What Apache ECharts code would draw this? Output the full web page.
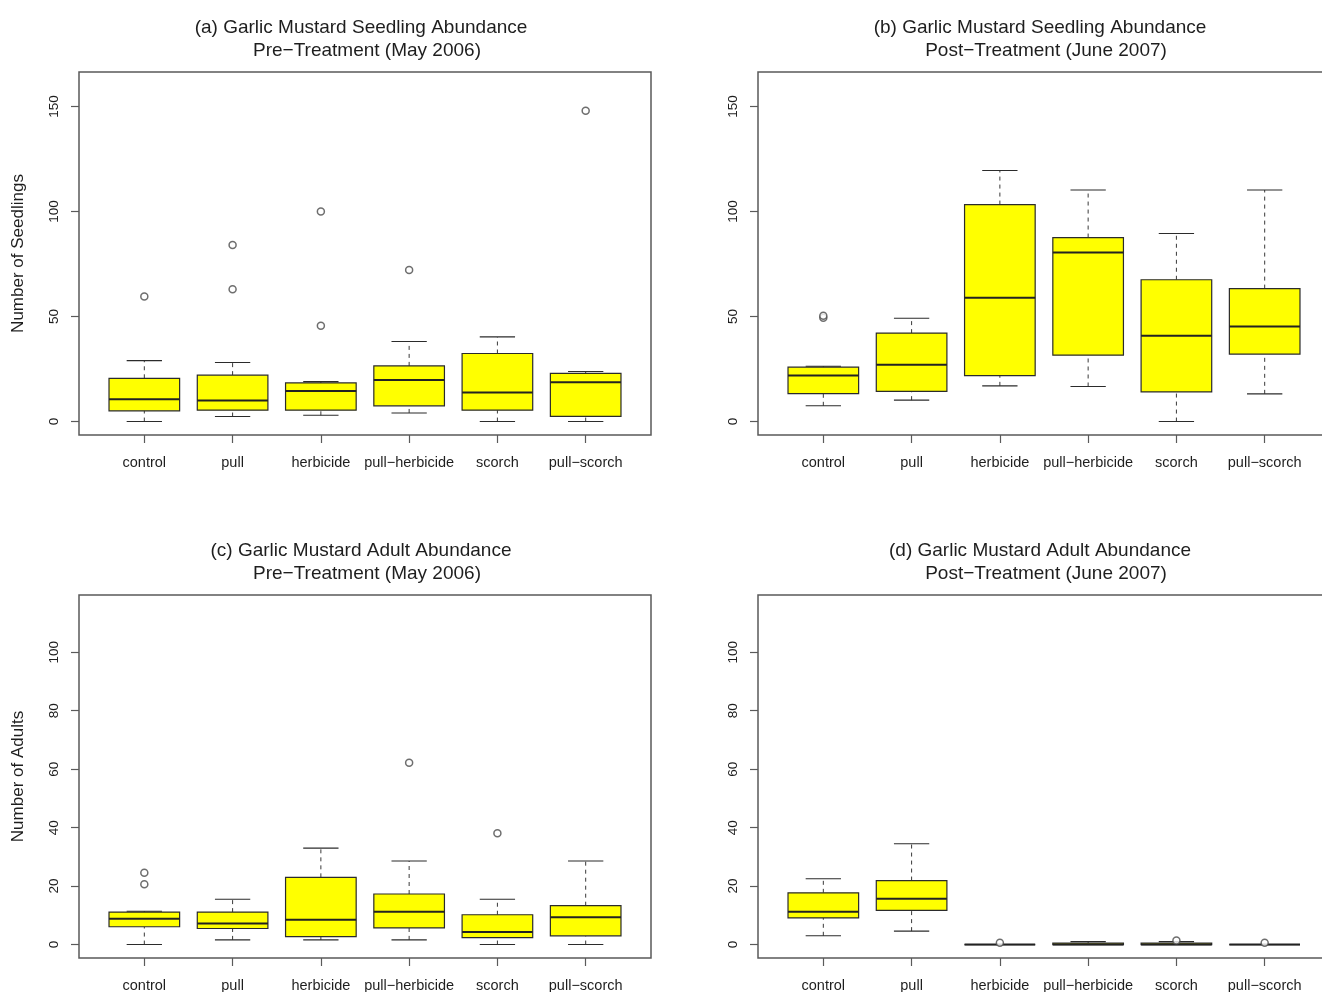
<!DOCTYPE html>
<html>
<head>
<meta charset="utf-8">
<script src="https://cdn.jsdelivr.net/npm/echarts@6/dist/echarts.min.js"></script>
<style>
html,body{margin:0;padding:0;background:#fff;}
#chart{width:1322px;height:992px;}
</style>
</head>
<body>
<div id="chart"></div>
<script>
// ---- data ----
const categories = ['control', 'pull', 'herbicide', 'pull−herbicide', 'scorch', 'pull−scorch'];

// each row: [lower whisker, Q1, median, Q3, upper whisker]
const seedlingPre = [
  [0, 5.1, 10.6, 20.6, 29.0],
  [2.4, 5.4, 10.0, 22.1, 28.1],
  [3.0, 5.4, 14.6, 18.4, 19.0],
  [4.1, 7.5, 19.8, 26.5, 38.1],
  [0, 5.4, 13.8, 32.4, 40.3],
  [0, 2.5, 18.7, 22.9, 23.8]
];
const seedlingPreOutliers = [[1, 59.5], [2, 63.0], [2, 84.0], [3, 45.6], [3, 100.0], [4, 72.1], [6, 147.9]];

const seedlingPost = [
  [7.5, 13.3, 21.9, 25.9, 26.3],
  [10.2, 14.4, 27.1, 42.1, 49.2],
  [17.0, 21.9, 58.9, 103.3, 119.5],
  [16.7, 31.6, 80.5, 87.6, 110.2],
  [0, 14.1, 40.8, 67.5, 89.5],
  [13.2, 32.1, 45.2, 63.3, 110.2]
];
const seedlingPostOutliers = [[1, 49.4], [1, 50.4]];

const adultPre = [
  [0, 6.1, 8.8, 11.1, 11.4],
  [1.6, 5.5, 7.2, 11.1, 15.5],
  [1.6, 2.7, 8.5, 23.0, 33.0],
  [1.6, 5.7, 11.2, 17.3, 28.6],
  [0, 2.4, 4.3, 10.2, 15.5],
  [0, 3.0, 9.3, 13.3, 28.6]
];
const adultPreOutliers = [[1, 20.6], [1, 24.6], [4, 62.2], [5, 38.1]];

const adultPost = [
  [3.0, 9.1, 11.2, 17.7, 22.5],
  [4.6, 11.7, 15.7, 21.9, 34.5],
  [0, 0, 0, 0, 0],
  [0, 0, 0, 0.5, 1.0],
  [0, 0, 0, 0.5, 1.0],
  [0, 0, 0, 0, 0]
];
const adultPostOutliers = [[3, 0.6], [5, 1.4], [6, 0.6]];

const seedlingTicks = [0, 50, 100, 150];
const adultTicks = [0, 20, 40, 60, 80, 100];

const titleLine1 = [
  '(a) Garlic Mustard Seedling Abundance',
  '(b) Garlic Mustard Seedling Abundance',
  '(c) Garlic Mustard Adult Abundance',
  '(d) Garlic Mustard Adult Abundance'
];
const titleLine2 = [
  'Pre−Treatment (May 2006)',
  'Post−Treatment (June 2007)',
  'Pre−Treatment (May 2006)',
  'Post−Treatment (June 2007)'
];
const yNames = ['Number of Seedlings', '', 'Number of Adults', ''];

// ---- layout ----
const panels = [
  {left: 79, top: 72, box: seedlingPre, out: seedlingPreOutliers, ylim: [0, 160], ticks: seedlingTicks},
  {left: 758, top: 72, box: seedlingPost, out: seedlingPostOutliers, ylim: [0, 160], ticks: seedlingTicks},
  {left: 79, top: 595, box: adultPre, out: adultPreOutliers, ylim: [0, 115], ticks: adultTicks},
  {left: 758, top: 595, box: adultPost, out: adultPostOutliers, ylim: [0, 115], ticks: adultTicks}
];
const W = 572, H = 363;
const frameColor = '#5a5a5a';
const textColor = '#1e1e1e';
const ext = 0.04; // R axis extension
const FONT = 'Liberation Sans, Arial, sans-serif';

function renderBox(params, api) {
  const x = api.value(0);
  const lo = api.coord([x, api.value(1)]);
  const q1 = api.coord([x, api.value(2)]);
  const md = api.coord([x, api.value(3)]);
  const q3 = api.coord([x, api.value(4)]);
  const hi = api.coord([x, api.value(5)]);
  const bw = api.size([0.8, 0])[0];
  const sw = api.size([0.4, 0])[0];
  const cx = lo[0];
  const stroke = '#2b2b2b';
  const dash = {stroke: '#3a3a3a', lineWidth: 1, lineDash: [4, 4]};
  const solid = {stroke: '#2b2b2b', lineWidth: 1.1};
  return {
    type: 'group',
    children: [
      {type: 'line', shape: {x1: cx, y1: q3[1], x2: cx, y2: hi[1]}, style: dash},
      {type: 'line', shape: {x1: cx, y1: lo[1], x2: cx, y2: q1[1]}, style: dash},
      {type: 'line', shape: {x1: cx - sw / 2, y1: hi[1], x2: cx + sw / 2, y2: hi[1]}, style: solid},
      {type: 'line', shape: {x1: cx - sw / 2, y1: lo[1], x2: cx + sw / 2, y2: lo[1]}, style: solid},
      {type: 'rect', shape: {x: cx - bw / 2, y: q3[1], width: bw, height: q1[1] - q3[1]},
        style: {fill: '#ffff00', stroke: stroke, lineWidth: 1.2}},
      {type: 'line', shape: {x1: cx - bw / 2, y1: md[1], x2: cx + bw / 2, y2: md[1]},
        style: {stroke: '#222', lineWidth: 2}}
    ]
  };
}

const option = {
  backgroundColor: '#fff',
  animation: false,
  title: [],
  grid: [],
  xAxis: [],
  yAxis: [],
  series: []
};

const catIdx = categories.map((c, i) => i + 1);

panels.forEach((p, k) => {
  const ts = {fontFamily: FONT, fontSize: 19, fontWeight: 'normal', color: textColor, lineHeight: 23};
  option.title.push({
    text: titleLine1[k], left: p.left + W / 2 - 4, top: p.top - 56,
    textAlign: 'center', padding: 0, textStyle: ts
  });
  option.title.push({
    text: titleLine2[k], left: p.left + W / 2 + 2, top: p.top - 33,
    textAlign: 'center', padding: 0, textStyle: ts
  });
  option.grid.push({
    left: p.left, top: p.top, width: W, height: H,
    containLabel: false, outerBoundsMode: 'none',
    show: true, borderColor: frameColor, borderWidth: 1.5, backgroundColor: 'transparent'
  });
  const n = categories.length;
  option.xAxis.push({
    type: 'value', gridIndex: k,
    min: 0.5 - ext * n, max: n + 0.5 + ext * n,
    axisLine: {show: false, onZero: false},
    splitLine: {show: false},
    axisTick: {show: true, inside: false, length: 8, customValues: catIdx, lineStyle: {color: frameColor, width: 1.2}},
    axisLabel: {
      show: true, margin: 20, customValues: catIdx,
      fontFamily: FONT, fontSize: 14.5, color: textColor,
      formatter: v => categories[Math.round(v) - 1] || ''
    }
  });
  const yr = p.ylim[1] - p.ylim[0];
  option.yAxis.push({
    type: 'value', gridIndex: k,
    min: p.ylim[0] - ext * yr, max: p.ylim[1] + ext * yr,
    name: yNames[k], nameLocation: 'middle', nameGap: 52, nameRotate: 90,
    nameTextStyle: {fontFamily: FONT, fontSize: 17, color: textColor},
    axisLine: {show: false, onZero: false},
    splitLine: {show: false},
    axisTick: {show: true, inside: false, length: 8, customValues: p.ticks, lineStyle: {color: frameColor, width: 1.2}},
    axisLabel: {
      show: true, rotate: 90, margin: 18, customValues: p.ticks,
      fontFamily: FONT, fontSize: 13.5, color: textColor
    }
  });
  option.series.push({
    type: 'custom', xAxisIndex: k, yAxisIndex: k,
    renderItem: renderBox,
    encode: {x: 0, y: [1, 2, 3, 4, 5]},
    data: p.box.map((r, i) => [i + 1].concat(r)),
    clip: false,
    z: 2
  });
  option.series.push({
    type: 'scatter', xAxisIndex: k, yAxisIndex: k,
    symbol: 'circle', symbolSize: 7,
    itemStyle: {color: '#ffffff', borderColor: '#4a4a4a', borderWidth: 1.5},
    data: p.out,
    z: 3
  });
});

const chart = echarts.init(document.getElementById('chart'), null, {renderer: 'canvas'});
chart.setOption(option);
</script>
</body>
</html>
